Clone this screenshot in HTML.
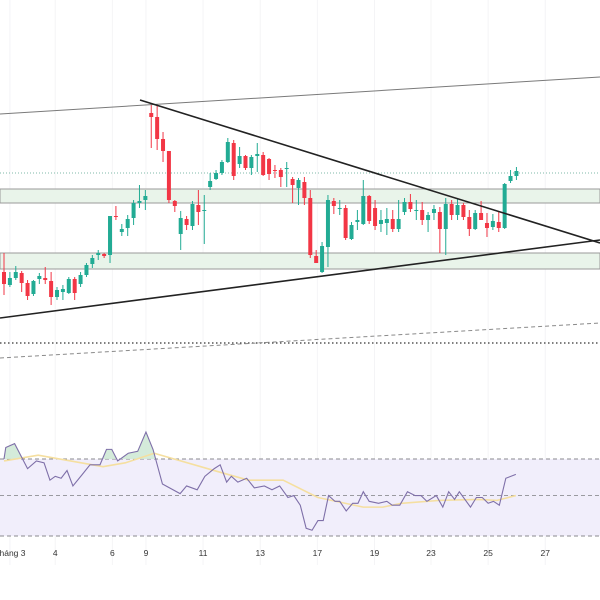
<!DOCTYPE html>
<html><head><meta charset="utf-8">
<style>
html,body{margin:0;padding:0;background:#fff;}
svg{display:block;font-family:"Liberation Sans","Noto Sans CJK SC",sans-serif;}
</style></head>
<body>
<svg id="chart" width="600" height="600" viewBox="0 0 600 600">
<g id="grid"></g>
<g id="zones">
  <rect x="0" y="189" width="600" height="14" fill="#e9f4ea" stroke="#9a9a9a" stroke-width="1"/>
  <rect x="0" y="253" width="600" height="16" fill="#e9f4ea" stroke="#9a9a9a" stroke-width="1"/>
  <line x1="0" y1="173" x2="600" y2="173" stroke="#7fb8a8" stroke-width="1" stroke-dasharray="1,2"/>
</g>
<g id="candles"></g>
<g id="drawings">
  <line x1="0" y1="114" x2="600" y2="77" stroke="#7a7a7a" stroke-width="1"/>
  <line x1="140" y1="100" x2="600" y2="243" stroke="#222" stroke-width="1.6"/>
  <line x1="0" y1="318" x2="600" y2="240" stroke="#222" stroke-width="1.6"/>
  <line x1="0" y1="343" x2="600" y2="343" stroke="#333" stroke-width="1.3" stroke-dasharray="1.5,2.5"/>
  <line x1="0" y1="358" x2="600" y2="323" stroke="#8a8a8a" stroke-width="1" stroke-dasharray="4,3"/>
</g>
<g id="rsi">
  <rect x="0" y="459" width="600" height="77" fill="#f1eefb"/>
  <line x1="0" y1="459" x2="600" y2="459" stroke="#8a8a8f" stroke-dasharray="4,3"/>
  <line x1="0" y1="495.5" x2="600" y2="495.5" stroke="#9a9aa0" stroke-dasharray="4,3"/>
  <line x1="0" y1="536" x2="600" y2="536" stroke="#8a8a8f" stroke-dasharray="4,3"/>
</g>
<g id="xaxis"></g>
</svg>
<script>
const opens  = [128,115,122,127,117,106,121,122,119,103,108,107,121,116,125,136,145,146,145,184,168,172,182,197,200,287,283,261,249,199,166,181,174,195,189,213,221,227,238,257,236,244,232,244,245,241,230,230,232,221,212,218,202,144,128,153,199,191,192,161,178,176,204,192,176,177,181,171,188,198,190,190,180,187,188,171,196,185,195,183,171,187,177,173,178,172,219,224];
const closes = [116,122,128,117,104,119,124,120,103,110,111,121,107,125,135,142,147,144,184,183,171,181,197,199,204,283,261,249,200,194,182,175,196,188,190,219,227,238,258,224,244,232,243,246,225,226,229,223,232,215,220,202,145,137,154,200,194,192,162,175,180,204,179,174,180,181,171,181,198,191,190,180,185,191,171,196,185,195,183,171,187,180,172,179,172,216,224,229];
const highs  = [147,128,134,129,120,120,127,133,128,113,115,123,123,128,137,145,150,147,184,194,176,185,200,215,210,295,295,268,249,200,189,184,199,210,205,227,230,240,262,260,253,245,245,257,248,242,235,232,238,223,222,223,210,150,158,205,202,200,195,178,190,220,205,200,190,192,190,200,202,206,200,198,188,195,193,202,200,202,197,190,190,199,187,186,189,217,230,233];
const lows   = [105,113,120,108,100,104,116,116,95,100,100,106,100,113,123,132,140,142,137,180,164,164,175,192,190,252,250,238,197,188,150,170,170,175,156,210,220,225,237,220,232,230,225,228,224,220,222,213,213,197,195,195,142,137,127,133,186,185,160,160,170,175,176,170,168,165,168,168,185,188,180,175,168,180,147,145,180,180,180,164,170,180,163,170,168,171,217,220];
const rsiIdx = [0,0.3,1.8,4,5.5,6.8,7.8,8.7,9.7,10.7,11.7,13.3,14.6,16.3,17.4,18.3,19.3,21.1,22.7,24.1,25.3,26.9,29.9,31,32.8,34.1,35.7,36.7,37.8,38.6,39.7,41.2,42.5,44.2,45.5,46.8,48.2,49.2,50.3,51.3,52.3,53.3,54.2,55.1,56.2,57,58.1,59.2,60.1,61,62,63.6,65,65.9,67.2,68.5,69.8,70.8,71.8,73.4,74.5,75.5,76.5,77.3,79.2,80.2,81.2,82.2,83.1,84.1,85.2,86.9];
const rsiVal = [70,76,78,65,69,68,59,61,60,64,56,62,67,67,75,75,69,73,74,84,75,57,52,56,54,61,65,67,58,61,58,60,55,56,54,56,50,51,46,34,33,38,38,51,48,48,43,47,47,53,48,47,48,46,46,53,51,51,48,51,45,53,49,53,45,50,50,47,48,46,60,62];
const maIdx = [0,5.8,16.8,20.6,25.5,35.7,41.5,47.4,53.3,61,64.3,67.5,74,80.5,83.7,86.9];
const maVal = [69,72,66,68,73,64,59,59,50,45,45,47,48.5,49,48.5,51];
const tickLabels = ["Tháng 3","4","6","9","11","13","17","19","23","25","27"];
const tickIdx = [1.0,8.7,18.4,24.1,33.8,43.5,53.2,62.9,72.5,82.2,91.9];

const NS="http://www.w3.org/2000/svg";
const xS = i => 4 + i*5.89;
const yS = v => 400 - v;
const rY = v => 459 + (70 - v)*77/40;
function mk(tag, attrs, parent){const e=document.createElementNS(NS,tag);for(const k in attrs)e.setAttribute(k,attrs[k]);parent.appendChild(e);return e;}

const grid=document.getElementById('grid');
tickIdx.forEach(t=>{
  const l=mk('line',{x1:xS(t),x2:xS(t),y1:0,y2:565,stroke:'#f4f4f6','stroke-width':1},grid);
  
  
});

const cg=document.getElementById('candles');
opens.forEach((o,i)=>{
  const c=closes[i], up=c>=o, col=up?'#22ab94':'#f23645', x=xS(i);
  const g=mk('g',{},cg);
  
  
  mk('line',{x1:x,x2:x,y1:yS(highs[i]),y2:yS(lows[i]),stroke:col,'stroke-width':1},g);
  const top=yS(Math.max(o,c)), h=Math.max(1,Math.abs(o-c));
  mk('rect',{x:x-2,y:top,width:4,height:h,fill:col},g);
});

const rg=document.getElementById('rsi');
let fillPath='';
for(let k=0;k<rsiIdx.length-1;k++){
  const a=rsiVal[k], b=rsiVal[k+1], xa=xS(rsiIdx[k]), xb=xS(rsiIdx[k+1]);
  if(a>70||b>70){
    const t1=a>70?0:(70-a)/(b-a), t2=b>70?1:(70-a)/(b-a);
    const x1=xa+(xb-xa)*t1, x2=xa+(xb-xa)*t2;
    const v1=a+(b-a)*t1, v2=a+(b-a)*t2;
    fillPath+=`M${x1},${rY(70)}L${x1},${rY(v1)}L${x2},${rY(v2)}L${x2},${rY(70)}Z`;
  }
}
const f=mk('path',{d:fillPath,fill:'#cfe9d6',opacity:0.9},rg);


const ma=mk('polyline',{points:maIdx.map((t,k)=>xS(t)+','+rY(maVal[k])).join(' '),fill:'none',stroke:'#f5dfa0','stroke-width':1.6,'stroke-linejoin':'round'},rg);


const rl=mk('polyline',{points:rsiIdx.map((t,k)=>xS(t)+','+rY(rsiVal[k])).join(' '),fill:'none',stroke:'#7e6fa8','stroke-width':1.1},rg);



const xa=document.getElementById('xaxis');
tickLabels.forEach((s,k)=>{
  const t=mk('text',{x:xS(tickIdx[k]),y:556,'font-size':8.5,fill:'#333','text-anchor':'middle'},xa);
  t.textContent=s;
  
  
});
</script>
</body></html>
